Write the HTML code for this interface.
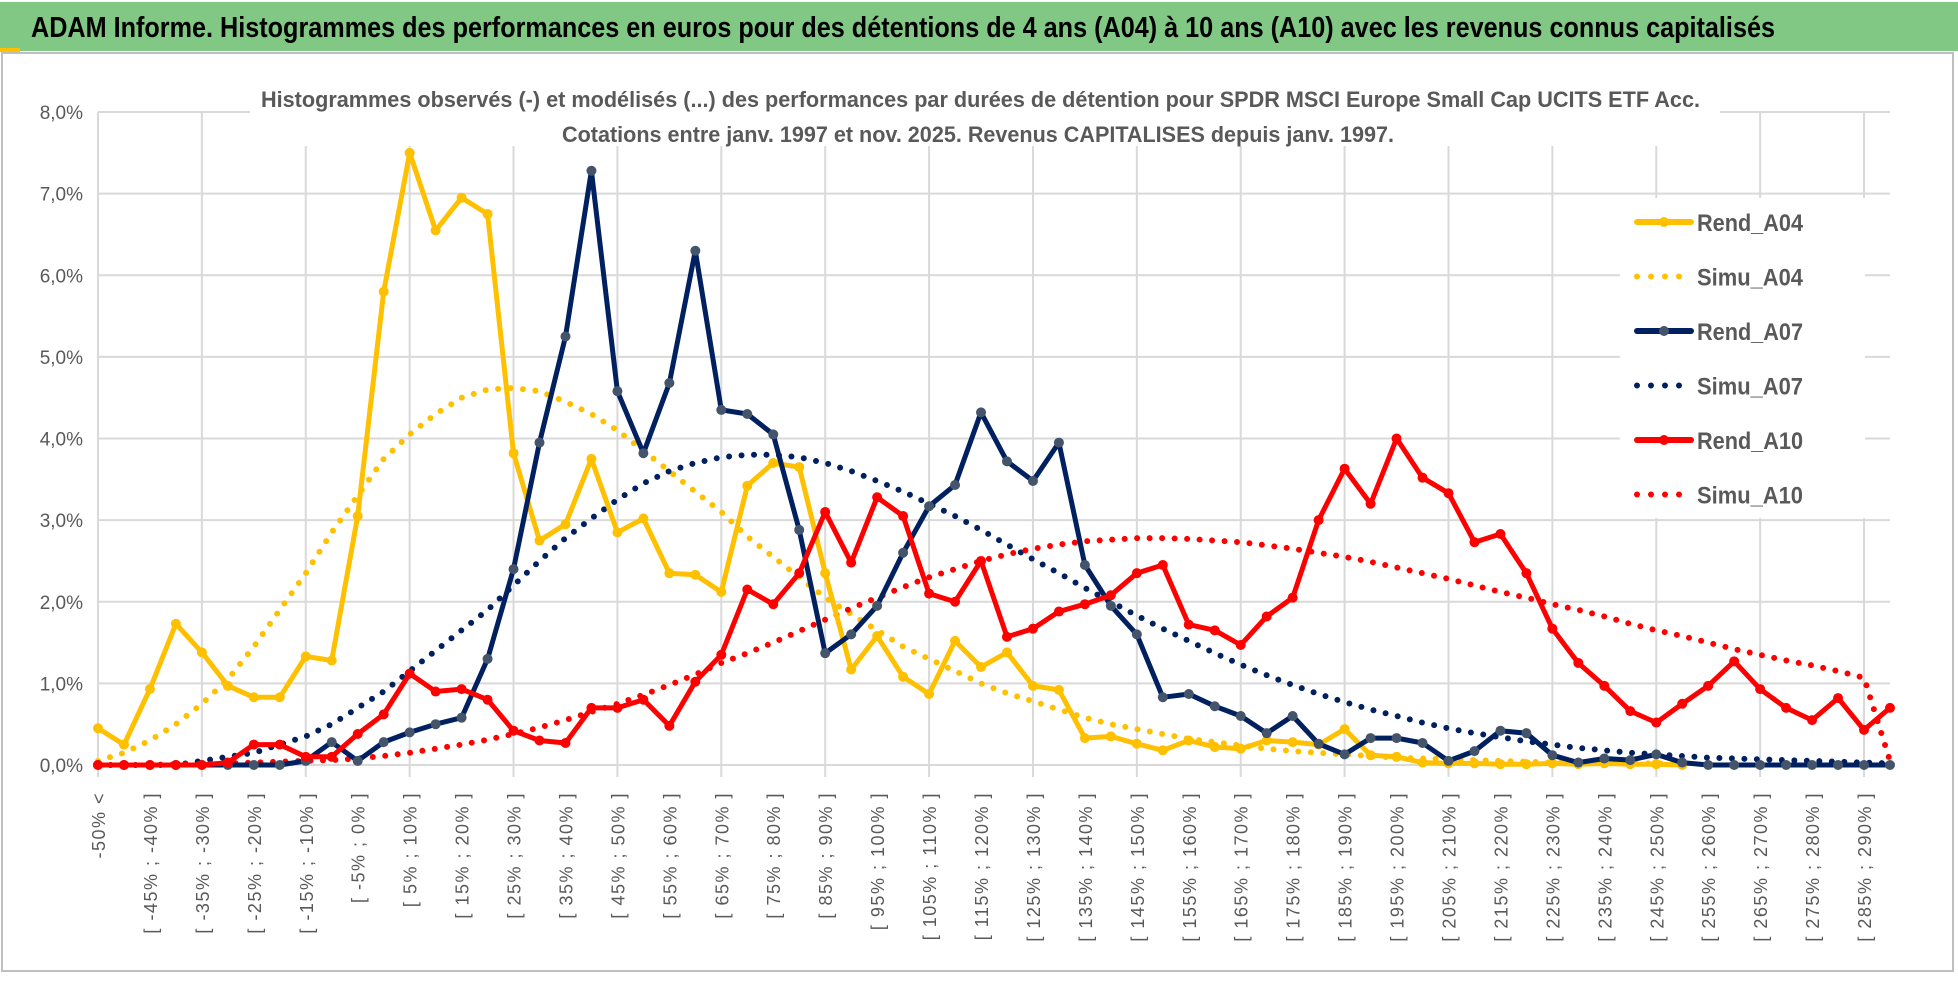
<!DOCTYPE html>
<html><head><meta charset="utf-8"><style>
html,body{margin:0;padding:0;background:#fff;}
svg{display:block;font-family:"Liberation Sans",sans-serif;}
</style></head><body>
<svg id="chart" width="1958" height="983" viewBox="0 0 1958 983">
<rect x="0" y="0" width="1958" height="983" fill="#fff"/>
<rect x="2" y="53" width="1951" height="918" fill="none" stroke="#bfbfbf" stroke-width="2"/>
<rect x="0" y="2" width="1958" height="49" fill="#80c883"/>
<rect x="0" y="48" width="20" height="4" fill="#ffc000"/>
<text x="31" y="37" font-size="29" font-weight="bold" fill="#000" textLength="1744" lengthAdjust="spacingAndGlyphs">ADAM Informe. Histogrammes des performances en euros pour des détentions de 4 ans (A04) à 10 ans (A10) avec les revenus connus capitalisés</text>
<g id="grid"></g>
<rect x="250" y="78" width="1470" height="68" fill="#fff"/>
<text x="261" y="107" font-size="22" font-weight="bold" fill="#595959" textLength="1439" lengthAdjust="spacingAndGlyphs">Histogrammes observés (-) et modélisés (...) des performances par durées de détention pour SPDR MSCI Europe Small Cap UCITS ETF Acc.</text>
<text x="562" y="142" font-size="22" font-weight="bold" fill="#595959" textLength="832" lengthAdjust="spacingAndGlyphs">Cotations entre janv. 1997 et nov. 2025. Revenus CAPITALISES depuis janv. 1997.</text>
<g id="series"></g>
<g id="legend"></g>
<g id="xlabels"></g>
<g id="ylabels"></g>
</svg>
<script>
const yTicks=[0,1,2,3,4,5,6,7,8];
const rendA04=[0.45,0.25,0.93,1.73,1.38,0.97,0.83,0.83,1.33,1.28,3.05,5.8,7.5,6.55,6.95,6.75,3.82,2.75,2.95,3.75,2.85,3.02,2.35,2.33,2.12,3.42,3.7,3.65,2.35,1.17,1.58,1.08,0.87,1.52,1.2,1.38,0.97,0.92,0.33,0.35,0.26,0.18,0.3,0.22,0.2,0.3,0.28,0.25,0.44,0.12,0.1,0.03,0.02,0.02,0.01,0.01,0.02,0.01,0.02,0.01,0.01,0.0,null,null,null,null,null,null,null,null];
const simuA04=[0.05,0.15,0.3,0.5,0.75,1.05,1.45,1.9,2.35,2.85,3.3,3.75,4.05,4.3,4.5,4.6,4.62,4.58,4.45,4.3,4.1,3.85,3.6,3.35,3.1,2.8,2.55,2.3,2.05,1.85,1.65,1.45,1.3,1.15,1.0,0.88,0.78,0.68,0.58,0.5,0.44,0.38,0.32,0.28,0.24,0.2,0.17,0.15,0.13,0.11,0.09,0.08,0.07,0.06,0.05,0.04,0.03,0.02,0.02,0.02,0.02,0.02,null,null,null,null,null,null,null,null];
const rendA07=[0,0,0,0,0,0,0,0,0.05,0.28,0.05,0.28,0.4,0.5,0.58,1.3,2.4,3.95,5.25,7.28,4.58,3.82,4.68,6.3,4.35,4.3,4.05,2.88,1.37,1.6,1.95,2.6,3.17,3.43,4.32,3.72,3.48,3.95,2.45,1.95,1.6,0.83,0.87,0.72,0.6,0.39,0.6,0.26,0.13,0.33,0.33,0.27,0.05,0.17,0.42,0.39,0.12,0.03,0.08,0.06,0.13,0.03,0,0,0,0,0,0,0,0];
const simuA07=[0,0,0,0,0.05,0.1,0.15,0.25,0.35,0.5,0.7,0.9,1.15,1.4,1.65,1.9,2.2,2.5,2.78,3.02,3.25,3.45,3.6,3.7,3.77,3.8,3.8,3.77,3.7,3.6,3.48,3.35,3.2,3.05,2.88,2.7,2.52,2.35,2.17,2.0,1.83,1.67,1.52,1.37,1.23,1.1,0.98,0.87,0.77,0.68,0.6,0.52,0.45,0.39,0.34,0.29,0.25,0.21,0.18,0.15,0.13,0.11,0.09,0.08,0.07,0.06,0.05,0.04,0.03,0.02];
const rendA10=[0,0,0,0,0,0.03,0.25,0.25,0.1,0.1,0.38,0.62,1.12,0.9,0.93,0.8,0.42,0.3,0.27,0.7,0.7,0.8,0.48,1.02,1.35,2.15,1.97,2.35,3.1,2.48,3.28,3.05,2.1,2.0,2.5,1.57,1.67,1.88,1.97,2.08,2.35,2.45,1.72,1.65,1.47,1.82,2.05,3.0,3.63,3.2,4.0,3.52,3.33,2.73,2.83,2.35,1.67,1.25,0.97,0.66,0.52,0.75,0.97,1.27,0.93,0.7,0.55,0.82,0.43,0.7];
const simuA10=[0,0,0,0.01,0.01,0.02,0.03,0.04,0.05,0.06,0.08,0.11,0.15,0.2,0.25,0.31,0.38,0.46,0.55,0.65,0.75,0.86,0.98,1.11,1.25,1.37,1.5,1.64,1.78,1.92,2.05,2.18,2.3,2.4,2.5,2.58,2.65,2.7,2.74,2.76,2.78,2.78,2.77,2.75,2.73,2.69,2.65,2.6,2.55,2.49,2.42,2.35,2.28,2.2,2.12,2.05,1.97,1.9,1.82,1.73,1.65,1.58,1.5,1.42,1.35,1.28,1.22,1.15,1.07,0.05];
const seriesNames=["Rend_A04","Simu_A04","Rend_A07","Simu_A07","Rend_A10","Simu_A10"];
const categories=["-50% <"];
for(let k=-50;k<295;k+=5){categories.push("[ "+k+"% ; "+(k+5)+"% ]");}

const NS="http://www.w3.org/2000/svg";
const X0=98,X1=1890,Y0=765,Y8=112;
const n=categories.length;
function xs(i){return X0+(X1-X0)*i/(n-1);}
function ys(v){return Y0-(Y0-Y8)*v/8;}
function mk(tag,attrs,parent){const e=document.createElementNS(NS,tag);for(const k in attrs)e.setAttribute(k,attrs[k]);parent.appendChild(e);return e;}
const grid=document.getElementById('grid');
yTicks.forEach(t=>{
  const l=mk('line',{x1:X0,x2:X1,y1:ys(t),y2:ys(t),stroke:'#d9d9d9','stroke-width':2},grid);
  
  
  const tx=mk('text',{x:83,y:ys(t)+7,'text-anchor':'end','font-size':19,fill:'#595959'},document.getElementById('ylabels'));
  tx.textContent=t.toFixed(1).replace('.',',')+'%';
  
  
});
for(let i=0;i<n;i+=4){
  const l=mk('line',{x1:xs(i),x2:xs(i),y1:Y8,y2:Y0+12,stroke:'#d9d9d9','stroke-width':2},grid);
  
  
}
const xl=document.getElementById('xlabels');
for(let i=0;i<n;i+=2){
  const t=mk('text',{transform:'translate('+(xs(i)+7)+',792) rotate(-90)','text-anchor':'end','font-size':18,fill:'#595959','letter-spacing':'1.5'},xl);
  t.textContent=categories[i];
  
  
}
const sg=document.getElementById('series');
function pathOf(arr){let d='',pen=false;arr.forEach((v,i)=>{if(v===null){pen=false;return;}d+=(pen?'L':'M')+xs(i).toFixed(1)+' '+ys(v).toFixed(1)+' ';pen=true;});return d;}
function dotted(arr,color,name){
  const p=mk('path',{d:pathOf(arr),fill:'none',stroke:color,'stroke-width':6,'stroke-linecap':'round','stroke-dasharray':'0 12.5'},sg);
  
  
}
function solid(arr,color,mcolor,name){
  const g=mk('g',{},sg);
  
  
  mk('path',{d:pathOf(arr),fill:'none',stroke:color,'stroke-width':5,'stroke-linejoin':'round'},g);
  arr.forEach((v,i)=>{if(v===null)return;
    const c=mk('circle',{cx:xs(i),cy:ys(v),r:5,fill:mcolor},g);
    
    
  });
}
dotted(simuA04,'#ffc000','simu-a04-line');
dotted(simuA07,'#002060','simu-a07-line');
dotted(simuA10,'#ff0000','simu-a10-line');
solid(rendA04,'#ffc000','#ffc000','rend-a04-line');
solid(rendA07,'#002060','#44546a','rend-a07-line');
solid(rendA10,'#ff0000','#ff0000','rend-a10-line');
// legend
const lg=document.getElementById('legend');
mk('rect',{x:1620,y:198,width:245,height:320,fill:'#fff'},lg);
const lcols=['#ffc000','#ffc000','#002060','#002060','#ff0000','#ff0000'];
const mcols=['#ffc000',null,'#44546a',null,'#ff0000',null];
seriesNames.forEach((s,i)=>{
  const y=222+i*54.5;
  const g=mk('g',{},lg);
  
  
  if(mcols[i]){
    mk('line',{x1:1637,x2:1691,y1:y,y2:y,stroke:lcols[i],'stroke-width':6,'stroke-linecap':'round'},g);
    mk('circle',{cx:1664,cy:y,r:5,fill:mcols[i]},g);
  } else {
    mk('line',{x1:1637,x2:1692,y1:y,y2:y,stroke:lcols[i],'stroke-width':6,'stroke-linecap':'round','stroke-dasharray':'0 14'},g);
  }
  const t=mk('text',{x:1697,y:y+9,'font-size':24,'font-weight':'bold',fill:'#595959',textLength:106,lengthAdjust:'spacingAndGlyphs'},g);
  t.textContent=s;
});
</script>
</body></html>
